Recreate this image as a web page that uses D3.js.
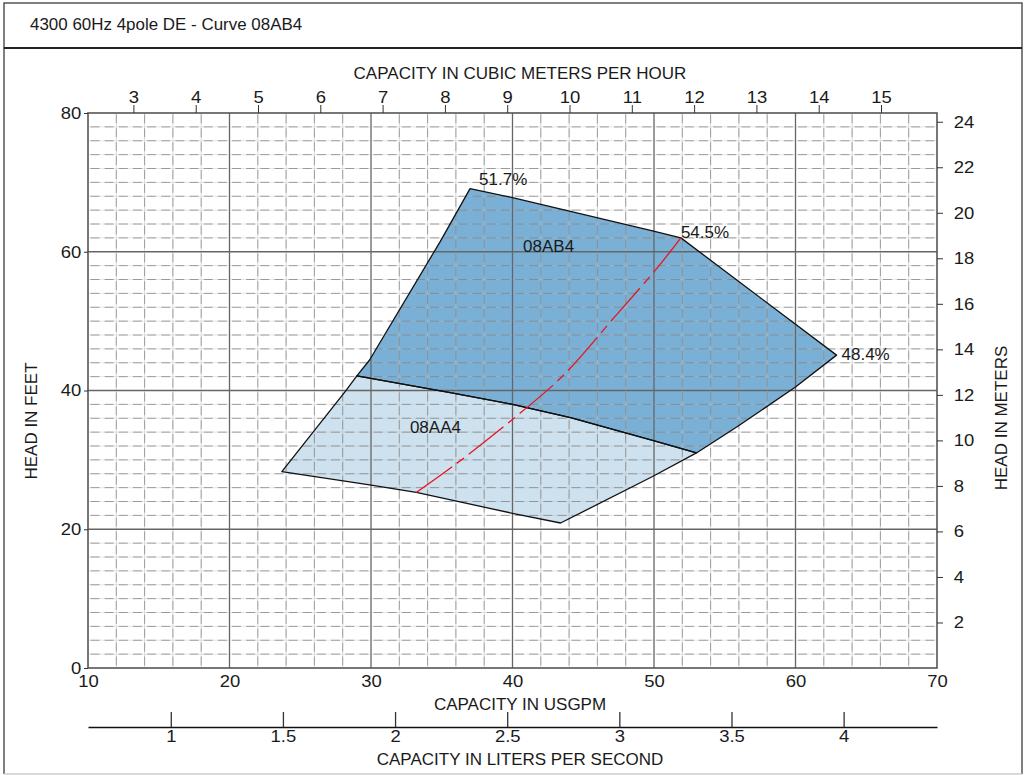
<!DOCTYPE html>
<html>
<head>
<meta charset="utf-8">
<script src="https://cdn.jsdelivr.net/npm/d3@7"></script>
<style>
body { margin: 0; background: #fff; }
svg text { font-family: "Liberation Sans", Arial, Helvetica, sans-serif; fill: #1a1a1a; }
</style>
</head>
<body>
<script>
let chartTitle = "4300 60Hz 4pole DE - Curve 08AB4"

// Tick values of the five scales
let gpmTicks = [10, 20, 30, 40, 50, 60, 70]
let feetTicks = [0, 20, 40, 60, 80]
let m3hTicks = [3, 4, 5, 6, 7, 8, 9, 10, 11, 12, 13, 14, 15]
let meterTicks = [2, 4, 6, 8, 10, 12, 14, 16, 18, 20, 22, 24]
let lpsTicks = [1, 1.5, 2, 2.5, 3, 3.5, 4]

// Unit conversions
let gpmPerM3h = 4.4029
let gpmPerLps = 15.8503
let feetPerMeter = 3.28084

// 08AB4 operating region (USGPM, feet)
let ab4Gpm = [29.0, 29.9, 34.9, 37.0, 40.0, 49.9, 51.9, 62.9, 60.0, 55.9, 53.0, 49.9, 44.1, 40.0, 35.6]
let ab4Head = [42.1, 44.4, 61.5, 69.1, 67.8, 63.0, 62.0, 45.1, 40.5, 34.8, 31.0, 32.8, 36.1, 38.0, 39.7]

// 08AA4 operating region (USGPM, feet)
let aa4Gpm = [29.0, 35.6, 40.0, 44.1, 49.9, 53.0, 49.9, 43.4, 40.0, 33.2, 29.9, 23.7, 28.2]
let aa4Head = [42.1, 39.7, 38.0, 36.1, 32.8, 31.0, 27.6, 20.9, 22.3, 25.3, 26.4, 28.3, 39.9]

// Best efficiency line
let bepGpm = [33.2, 35.8, 39.8, 43.6, 47.3, 50.2, 51.9]
let bepHead = [25.3, 29.1, 35.5, 42.2, 50.8, 57.6, 62.0]

// Efficiency labels
let effLabels = ["51.7%", "54.5%", "48.4%"]
let effGpm = [37.0, 51.9, 62.9]
let effHead = [69.1, 62.0, 45.1]

// Curve names
let curveNames = ["08AB4", "08AA4"]
let curveGpm = [40.75, 32.75]
let curveHead = [60.0, 33.9]

let chartWidth = 1026
let chartHeight = 775
let plotLeft = 88, plotRight = 937, plotTop = 113, plotBottom = 668

let svg = d3.select("body").append("svg")
	.attr("width", chartWidth)
	.attr("height", chartHeight)

let x = d3.scaleLinear().domain([10, 70]).range([plotLeft, plotRight])
let y = d3.scaleLinear().domain([0, 80]).range([plotBottom, plotTop])
let xM3h = d3.scaleLinear().domain([10 / gpmPerM3h, 70 / gpmPerM3h]).range([plotLeft, plotRight])
let xLps = d3.scaleLinear().domain([10 / gpmPerLps, 70 / gpmPerLps]).range([plotLeft, plotRight])
let yMeter = d3.scaleLinear().domain([0, 80 / feetPerMeter]).range([plotBottom, plotTop])

// Outer frame and title bar
svg.append("path")
	.attr("d", `M4,${chartHeight - 1} V3 H1022 V${chartHeight - 1}`)
	.attr("fill", "none").attr("stroke", "#555").attr("stroke-width", 1.5)
svg.append("line")
	.attr("x1", 4).attr("x2", 1022).attr("y1", chartHeight - 1).attr("y2", chartHeight - 1)
	.attr("stroke", "#ccc").attr("stroke-width", 1.5)
svg.append("line")
	.attr("x1", 4).attr("x2", 1022).attr("y1", 48).attr("y2", 48)
	.attr("stroke", "#222").attr("stroke-width", 2)
svg.append("text")
	.attr("transform", "translate(30,29.5) scale(1.06,1)")
	.attr("font-size", 16)
	.text(chartTitle)

// Regions
let area = d3.line()
	.x(d => x(d[0]))
	.y(d => y(d[1]))
	.curve(d3.curveLinearClosed)

let ab4 = ab4Gpm.map((g, i) => [g, ab4Head[i]])
let aa4 = aa4Gpm.map((g, i) => [g, aa4Head[i]])

svg.append("path").attr("d", area(ab4)).attr("fill", "#7ab0d6")
svg.append("path").attr("d", area(aa4)).attr("fill", "#cde1ef")

// Grid: faint solid lines under darker dashes
let grid = svg.append("g")
let minorX = d3.range(12, 70, 2).filter(v => v % 10 != 0)
let minorY = d3.range(2, 80, 2).filter(v => v % 20 != 0)

grid.selectAll(".vl").data(minorX).enter().append("line")
	.attr("x1", d => x(d)).attr("x2", d => x(d))
	.attr("y1", plotBottom).attr("y2", plotTop)
	.attr("stroke", "#bbb").attr("stroke-opacity", 0.5).attr("stroke-width", 1)
grid.selectAll(".hl").data(minorY).enter().append("line")
	.attr("x1", plotLeft).attr("x2", plotRight)
	.attr("y1", d => y(d)).attr("y2", d => y(d))
	.attr("stroke", "#bbb").attr("stroke-opacity", 0.35).attr("stroke-width", 1)

grid.selectAll(".vd").data(minorX).enter().append("line")
	.attr("x1", d => x(d)).attr("x2", d => x(d))
	.attr("y1", plotBottom).attr("y2", plotTop)
	.attr("stroke", "#808080").attr("stroke-opacity", 0.7).attr("stroke-width", 1)
	.attr("stroke-dasharray", "9,4.9").attr("stroke-dashoffset", -2.5)
grid.selectAll(".hd").data(minorY).enter().append("line")
	.attr("x1", plotLeft).attr("x2", plotRight)
	.attr("y1", d => y(d)).attr("y2", d => y(d))
	.attr("stroke", "#808080").attr("stroke-opacity", 0.75).attr("stroke-width", 1)
	.attr("stroke-dasharray", "9,5.15").attr("stroke-dashoffset", -2.5)

// Major grid lines
grid.selectAll(".vm").data(gpmTicks.slice(1, -1)).enter().append("line")
	.attr("x1", d => x(d)).attr("x2", d => x(d))
	.attr("y1", plotBottom).attr("y2", plotTop)
	.attr("stroke", "#666").attr("stroke-width", 1.3)
grid.selectAll(".hm").data(feetTicks.slice(1, -1)).enter().append("line")
	.attr("x1", plotLeft).attr("x2", plotRight)
	.attr("y1", d => y(d)).attr("y2", d => y(d))
	.attr("stroke", "#666").attr("stroke-width", 1.3)

// Plot border
svg.append("rect")
	.attr("x", plotLeft).attr("y", plotTop)
	.attr("width", plotRight - plotLeft).attr("height", plotBottom - plotTop)
	.attr("fill", "none").attr("stroke", "#555").attr("stroke-width", 1.6)

// Region outlines
svg.append("path").attr("d", area(ab4))
	.attr("fill", "none").attr("stroke", "#111").attr("stroke-width", 1.3).attr("stroke-linejoin", "round")
svg.append("path").attr("d", area(aa4))
	.attr("fill", "none").attr("stroke", "#111").attr("stroke-width", 1.3).attr("stroke-linejoin", "round")

// Best efficiency line
let bep = bepGpm.map((g, i) => [g, bepHead[i]])
svg.append("path")
	.attr("d", d3.line().x(d => x(d[0])).y(d => y(d[1])).curve(d3.curveCatmullRom)(bep))
	.attr("fill", "none")
	.attr("stroke", "#e8141e")
	.attr("stroke-width", 1.3)
	.attr("stroke-dasharray", "44,6,9,6")

// Labels
let effOffset = [[9, -4], [0, 0], [5, 5]]
svg.selectAll(".eff").data(effLabels).enter().append("text")
	.attr("x", (d, i) => x(effGpm[i]) + effOffset[i][0])
	.attr("y", (d, i) => y(effHead[i]) + effOffset[i][1])
	.attr("font-size", 17)
	.text(d => d)

svg.selectAll(".cname").data(curveNames).enter().append("text")
	.attr("x", (d, i) => x(curveGpm[i]))
	.attr("y", (d, i) => y(curveHead[i]))
	.attr("font-size", 17)
	.text(d => d)

// Axes
let tickFont = 16.5
let stretch = 1.12
let styleAxis = g => {
	g.select(".domain").remove()
	g.selectAll(".tick line").attr("stroke", "#333")
	g.selectAll("text")
		.attr("font-size", tickFont)
		.attr("font-family", null)
		.attr("fill", "#1a1a1a")
		.attr("transform", `scale(${stretch},1)`)
}

let bottomAxis = svg.append("g")
	.attr("transform", `translate(0,${plotBottom})`)
	.call(d3.axisBottom(x).tickValues(gpmTicks).tickSize(0))
styleAxis(bottomAxis)
bottomAxis.selectAll("text").attr("dy", null).attr("y", 19)

let leftAxis = svg.append("g")
	.attr("transform", `translate(${plotLeft},0)`)
	.call(d3.axisLeft(y).tickValues(feetTicks).tickSize(4).tickPadding(2))
styleAxis(leftAxis)

let topAxis = svg.append("g")
	.attr("transform", `translate(0,${plotTop})`)
	.call(d3.axisTop(xM3h).tickValues(m3hTicks).tickSize(8).tickPadding(2))
styleAxis(topAxis)

let rightAxis = svg.append("g")
	.attr("transform", `translate(${plotRight},0)`)
	.call(d3.axisRight(yMeter).tickValues(meterTicks).tickSize(6).tickPadding(9))
styleAxis(rightAxis)

let lpsAxis = svg.append("g")
	.attr("transform", "translate(0,727)")
	.call(d3.axisBottom(xLps).tickValues(lpsTicks).tickFormat(d3.format("~g")).tickSize(-15).tickSizeOuter(0))
lpsAxis.select(".domain").attr("stroke", "#111").attr("stroke-width", 1.3)
lpsAxis.selectAll(".tick line").attr("stroke", "#333").attr("stroke-width", 1.3)
lpsAxis.selectAll("text")
	.attr("font-size", tickFont).attr("font-family", null).attr("fill", "#1a1a1a")
	.attr("dy", null).attr("y", 15)
	.attr("transform", `scale(${stretch},1)`)

// Axis titles
let axisTitle = (t, tx, ty, rot) => svg.append("text")
	.attr("transform", `translate(${tx},${ty}) rotate(${rot})`)
	.attr("text-anchor", "middle")
	.attr("font-size", 17)
	.text(t)

axisTitle("CAPACITY IN CUBIC METERS PER HOUR", 520, 79, 0)
axisTitle("CAPACITY IN USGPM", 520, 710, 0)
axisTitle("CAPACITY IN LITERS PER SECOND", 520, 765, 0)
axisTitle("HEAD IN FEET", 37, 421, -90)
axisTitle("HEAD IN METERS", 1007, 418, -90)
</script>
</body>
</html>
